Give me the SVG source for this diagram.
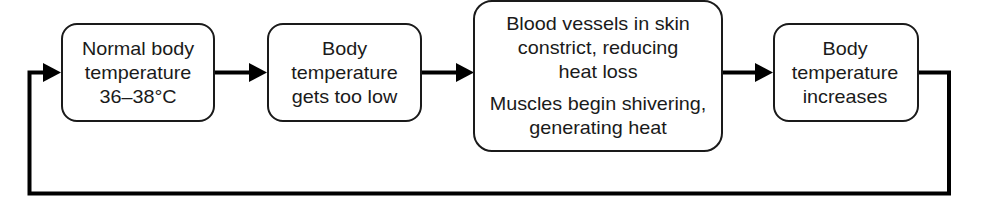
<svg xmlns="http://www.w3.org/2000/svg" width="1000" height="211" viewBox="0 0 1000 211">
  <style>
    .node rect { fill: #ffffff; stroke: #1a1a1a; stroke-width: 2; }
    .node text { font-family: "Liberation Sans", Arial, sans-serif; font-size: 18px; fill: #1a1a1a; text-anchor: middle; }
    .conn { fill: none; stroke: #000; stroke-width: 4; }
  </style>
  <defs>
    <marker id="arrow" markerUnits="userSpaceOnUse" viewBox="0 0 18 19" refX="10" refY="9.5" markerWidth="18" markerHeight="19" orient="auto">
      <polygon points="0,0 18,9.5 0,19" fill="#000"/>
    </marker>
  </defs>
  <rect width="1000" height="211" fill="#ffffff"/>

  <g id="connectors">
    <line class="conn" x1="215" y1="72.5" x2="259" y2="72.5" marker-end="url(#arrow)"/>
    <line class="conn" x1="421" y1="72.5" x2="466" y2="72.5" marker-end="url(#arrow)"/>
    <line class="conn" x1="722" y1="72.5" x2="765" y2="72.5" marker-end="url(#arrow)"/>
    <polyline class="conn" points="918,72.5 949,72.5 949,193.5 29.5,193.5 29.5,72.5 53,72.5" marker-end="url(#arrow)"/>
  </g>

  <g id="node-normal" class="node">
    <rect x="62" y="24" width="152" height="97" rx="15"/>
    <g transform="translate(138,0) scale(1.1,1)">
      <text x="0" y="55">Normal body</text>
      <text x="0" y="79">temperature</text>
      <text x="0" y="103">36–38°C</text>
    </g>
  </g>

  <g id="node-too-low" class="node">
    <rect x="268" y="24" width="153" height="97" rx="15"/>
    <g transform="translate(344.5,0) scale(1.1,1)">
      <text x="0" y="55">Body</text>
      <text x="0" y="79">temperature</text>
      <text x="0" y="103">gets too low</text>
    </g>
  </g>

  <g id="node-response" class="node">
    <rect x="474" y="1" width="248" height="150" rx="18"/>
    <g transform="translate(598,0) scale(1.1,1)">
      <text x="0" y="30">Blood vessels in skin</text>
      <text x="0" y="54">constrict, reducing</text>
      <text x="0" y="78">heat loss</text>
      <text x="0" y="110">Muscles begin shivering,</text>
      <text x="0" y="134">generating heat</text>
    </g>
  </g>

  <g id="node-increases" class="node">
    <rect x="774" y="24" width="144" height="97" rx="15"/>
    <g transform="translate(845,0) scale(1.1,1)">
      <text x="0" y="55">Body</text>
      <text x="0" y="79">temperature</text>
      <text x="0" y="103">increases</text>
    </g>
  </g>
</svg>
